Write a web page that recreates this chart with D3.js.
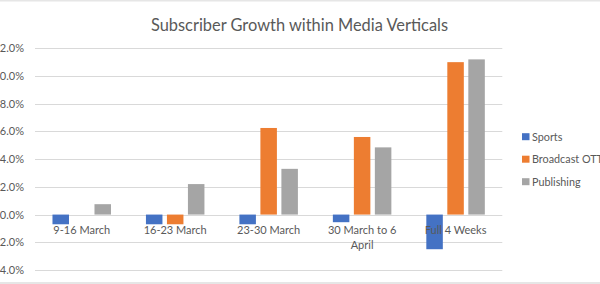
<!DOCTYPE html>
<html><head><meta charset="utf-8">
<script src="https://cdn.jsdelivr.net/npm/d3@7"></script>
<style>
html,body{margin:0;padding:0;background:#fff;overflow:hidden}
svg{display:block}
</style></head>
<body>
<svg id="chart" width="600" height="284"></svg>
<script>
const categories = ["9-16 March", "16-23 March", "23-30 March", "30 March to 6 April", "Full 4 Weeks"];
const seriesNames = ["Sports", "Broadcast OTT", "Publishing"];
const sports = [-0.7, -0.7, -0.7, -0.55, -2.5];
const broadcast = [0, -0.7, 6.25, 5.6, 11.0];
const publishing = [0.75, 2.2, 3.3, 4.85, 11.2];
const seriesColors = ["#4472C4", "#ED7D31", "#A5A5A5"];
const yTicks = [-4, -2, 0, 2, 4, 6, 8, 10, 12];
const title = "Subscriber Growth within Media Verticals";

const seriesValues = [sports, broadcast, publishing];
const font = "Lato, 'Open Sans', sans-serif";
const svg = d3.select("#chart");

// frame bands
svg.append("rect").attr("x",0).attr("y",0).attr("width",600).attr("height",1.5).attr("fill","#e6e6e6");
svg.append("rect").attr("x",0).attr("y",282).attr("width",600).attr("height",2).attr("fill","#e6e6e6");

const y = d3.scaleLinear().domain([-4, 12]).range([270, 48.3]);
const x0 = d3.scaleBand().domain(categories).range([35, 502.3]);
const x1 = d3.scaleBand().domain(seriesNames).range([-29.25, 29.25]).paddingInner(0.214);

// gridlines
svg.append("g").selectAll("line").data(yTicks).join("line")
  .attr("x1", 35).attr("x2", 502.3)
  .attr("y1", d => Math.round(y(d)) + 0.5).attr("y2", d => Math.round(y(d)) + 0.5)
  .attr("stroke", "#d9d9d9").attr("stroke-width", 1);

// y axis labels
const yAxis = d3.axisLeft(y).tickValues(yTicks).tickFormat(d => d.toFixed(1) + "%").tickSize(0).tickPadding(0);
const ya = svg.append("g").attr("transform", "translate(24,0)").call(yAxis);
ya.select(".domain").remove();
ya.selectAll("text").attr("fill", "#595959").style("font-family", font).style("font-size", "11px");

// bars
const groups = svg.append("g").selectAll("g").data(categories).join("g")
  .attr("transform", d => `translate(${x0(d) + x0.bandwidth()/2},0)`);
groups.selectAll("rect").data((c, i) => seriesNames.map((s, j) => ({s, v: seriesValues[j][i], c: seriesColors[j]})))
  .join("rect")
  .attr("x", d => x1(d.s))
  .attr("width", x1.bandwidth())
  .attr("y", d => y(Math.max(0, d.v)))
  .attr("height", d => Math.abs(y(d.v) - y(0)))
  .attr("fill", d => d.c);

// category labels
const catLines = {"30 March to 6 April": ["30 March to 6", "April"]};
const cl = svg.append("g").selectAll("text").data(categories).join("text")
  .attr("x", d => x0(d) + x0.bandwidth()/2)
  .attr("y", 233.5)
  .attr("text-anchor", "middle")
  .attr("fill", "#595959")
  .style("font-family", font).style("font-size", "11px");
cl.each(function(d){
  const lines = catLines[d] || [d];
  const t = d3.select(this);
  lines.forEach((ln, i) => t.append("tspan").attr("x", x0(d) + x0.bandwidth()/2).attr("dy", i ? 15 : 0).text(ln));
});

// title
svg.append("text").attr("x", 299.5).attr("y", 30.5).attr("text-anchor", "middle")
  .attr("fill", "#595959").style("font-family", font).style("font-size", "16.4px").text(title);

// legend
const lg = svg.append("g").selectAll("g").data(seriesNames).join("g")
  .attr("transform", (d, i) => `translate(522,${136.7 + i * 22.5})`);
lg.append("rect").attr("x", 0).attr("y", -3.5).attr("width", 7.5).attr("height", 7).attr("fill", (d, i) => seriesColors[i]);
lg.append("text").attr("x", 10).attr("y", 3.8).attr("fill", "#595959")
  .style("font-family", font).style("font-size", "10.8px").text(d => d);
</script>
</body></html>
